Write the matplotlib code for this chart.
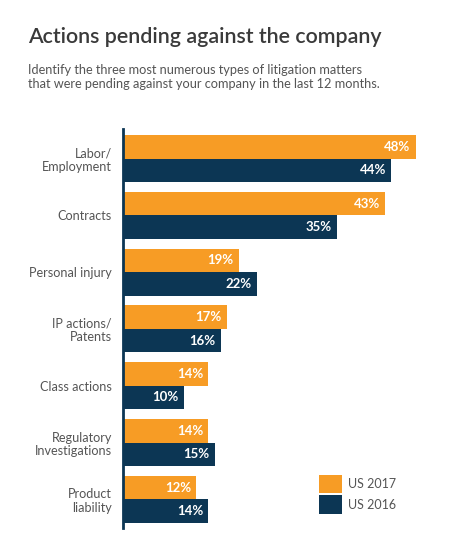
import matplotlib
matplotlib.use("Agg")
import matplotlib.pyplot as plt
from matplotlib.patches import Patch

categories = ["Labor/\nEmployment", "Contracts", "Personal injury", "IP actions/\nPatents",
              "Class actions", "Regulatory\nInvestigations", "Product\nliability"]
us2017 = [48, 43, 19, 17, 14, 14, 12]
us2016 = [44, 35, 22, 16, 10, 15, 14]
series_names = ["US 2017", "US 2016"]

ORANGE = "#F79C25"
NAVY = "#0C3654"
GRAY = "#555555"
FONT = "Lato"

W, H = 450, 559
fig = plt.figure(figsize=(W / 100, H / 100), dpi=100)

# axes in pixel geometry
left, right, top, bottom = 123, 450, 129, 528
ax = fig.add_axes([left / W, 1 - bottom / H, (right - left) / W, (bottom - top) / H])

pitch = 56.8
bh = 23.5 / pitch
px_per_pct = 6.1
ax.set_xlim(0, (right - left) / px_per_pct)
y0 = -(158.5 - top) / pitch
y1 = (bottom - 158.5) / pitch
ax.set_ylim(y1, y0)

idx = list(range(len(categories)))
b1 = ax.barh([i - bh / 2 for i in idx], us2017, height=bh, color=ORANGE, edgecolor="none")
b2 = ax.barh([i + bh / 2 for i in idx], us2016, height=bh, color=NAVY, edgecolor="none")

for bars, vals in ((b1, us2017), (b2, us2016)):
    for rect, v in zip(bars, vals):
        ax.annotate(f"{v}%", (rect.get_width(), rect.get_y() + rect.get_height() / 2),
                    xytext=(-3.8, 0), textcoords="offset points", ha="right", va="center",
                    color="white", fontsize=9.5, fontweight="bold", family=FONT)

ax.set_yticks(idx)
ax.set_yticklabels(categories, fontsize=9.1, color=GRAY, family=FONT, linespacing=1.15)
ax.tick_params(axis="y", length=0, pad=8)
ax.tick_params(axis="x", bottom=False, labelbottom=False)
for s in ("top", "right", "bottom"):
    ax.spines[s].set_visible(False)
ax.spines["left"].set_color(NAVY)
ax.spines["left"].set_linewidth(2)
for lab in ax.get_yticklabels():
    lab.set_horizontalalignment("right")

fs_leg = 9.0
fs_px = fs_leg * 100 / 72
handles = [Patch(facecolor=ORANGE, edgecolor="none"), Patch(facecolor=NAVY, edgecolor="none")]
leg = fig.legend(handles, series_names, loc="upper left",
                 bbox_to_anchor=(315 / W, 1 - 471 / H), frameon=False,
                 handlelength=23 / fs_px, handleheight=24 / fs_px, labelspacing=2 / fs_px,
                 handletextpad=0.5, borderpad=0.3, borderaxespad=0,
                 prop={"family": FONT, "size": fs_leg})
for t in leg.get_texts():
    t.set_color(GRAY)

fig.text(28 / W, 1 - 37 / H, "Actions pending against the company", fontsize=15.4,
         color="#3a3a3a", family=FONT, fontweight="semibold", va="center", ha="left")
fig.text(28 / W, 1 - 77 / H,
         "Identify the three most numerous types of litigation matters\n"
         "that were pending against your company in the last 12 months.",
         fontsize=9.2, color=GRAY, family=FONT, va="center", ha="left", linespacing=1.2)

fig.savefig("out.png", dpi=100, facecolor="white")
